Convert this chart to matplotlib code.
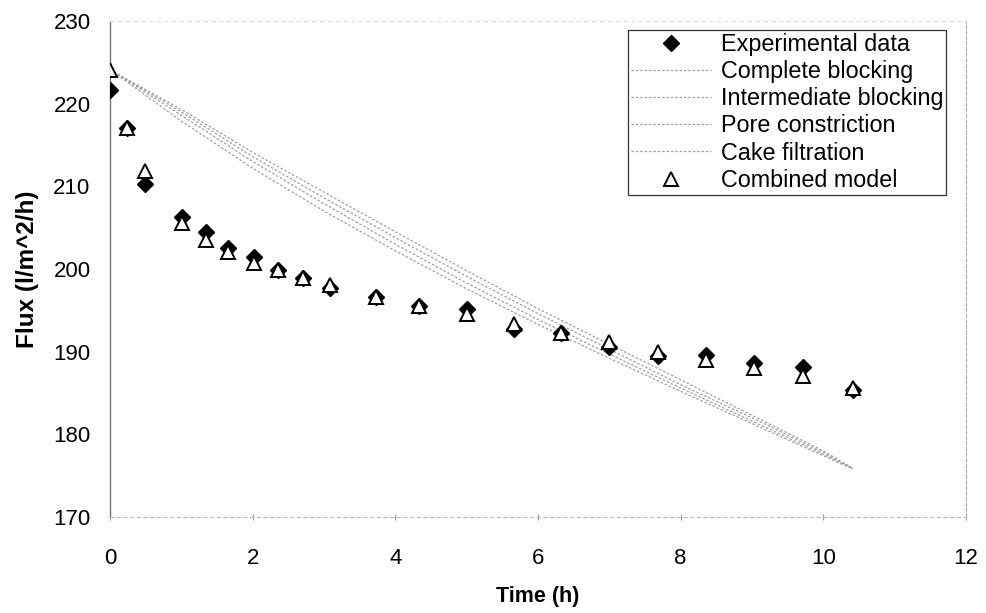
import matplotlib
matplotlib.use("Agg")
import matplotlib.pyplot as plt

plt.rcParams['font.family'] = ['Liberation Sans', 'DejaVu Sans']

# ---- data ----
time_exp = [0, 0.24, 0.49, 1.01, 1.34, 1.65, 2.02, 2.35, 2.71, 3.09, 3.73,
            4.33, 5.01, 5.67, 6.32, 7.00, 7.68, 8.36, 9.03, 9.71, 10.41]
flux_exp = [221.7, 217.1, 210.3, 206.3, 204.5, 202.5, 201.4, 199.9, 198.9, 197.7, 196.6,
            195.5, 195.2, 192.8, 192.2, 190.6, 189.5, 189.6, 188.6, 188.2, 185.4]
flux_combined = [224.1, 217.0, 211.8, 205.6, 203.5, 202.0, 200.7, 199.9, 198.9, 198.1, 196.6,
                 195.5, 194.6, 193.4, 192.2, 191.2, 189.9, 189.0, 188.0, 187.0, 185.6]

time_model = [0, 1, 2, 3, 4, 5, 6, 7, 8, 9, 10, 10.41]
flux_complete = [224.1, 219.3, 214.1, 209.3, 204.5, 199.8, 195.2, 190.9, 186.6, 182.3, 178.0, 175.9]
flux_intermediate = [224.1, 218.6, 213.0, 207.9, 203.0, 198.3, 193.9, 189.7, 185.6, 181.6, 177.6, 175.9]
flux_pore = [224.1, 219.0, 213.6, 208.6, 203.8, 199.1, 194.6, 190.3, 186.0, 182.0, 177.8, 175.9]
flux_cake = [224.1, 217.9, 212.2, 207.0, 202.2, 197.6, 193.3, 189.2, 185.2, 181.3, 177.4, 175.8]

x_ticks = [0, 2, 4, 6, 8, 10, 12]
y_ticks = [170, 180, 190, 200, 210, 220, 230]

fig = plt.figure(figsize=(9.86, 6.13), dpi=100)
ax = fig.add_axes([110/986, 1 - 517/613, 856/986, 496/613])

ax.plot(time_exp, flux_exp, linestyle='none', marker='D', markersize=7.8,
        color='black', label='Experimental data', zorder=3)
line_kw = dict(color='#a0a0a0', linewidth=0.9, linestyle=(0, (2, 1.5)), zorder=2)
ax.plot(time_model, flux_complete, label='Complete blocking', **line_kw)
ax.plot(time_model, flux_intermediate, label='Intermediate blocking', **line_kw)
ax.plot(time_model, flux_pore, label='Pore constriction', **line_kw)
ax.plot(time_model, flux_cake, label='Cake filtration', **line_kw)
ax.plot(time_exp, flux_combined, linestyle='none', marker='^', markersize=9.5,
        markerfacecolor='white', markeredgecolor='black', markeredgewidth=1.4,
        label='Combined model', zorder=4)

ax.set_xlim(0, 12)
ax.set_ylim(170, 230)
ax.set_xticks(x_ticks)
ax.set_yticks(y_ticks)
ax.tick_params(axis='x', labelsize=16, length=5, color='#999999', pad=20, direction='inout')
ax.tick_params(axis='y', labelsize=16, length=0, pad=14)

ax.spines['left'].set_color('#777777')
ax.spines['left'].set_linewidth(1.0)
ax.spines['bottom'].set_color('#bbbbbb')
ax.spines['bottom'].set_linestyle((0, (3, 3)))
ax.spines['top'].set_color('#dddddd')
ax.spines['top'].set_linestyle((0, (3, 4)))
ax.spines['right'].set_color('#aaaaaa')
ax.spines['right'].set_linestyle((0, (3, 2)))

ax.set_xlabel('Time (h)', fontsize=15.5, fontweight='bold', labelpad=12)
ax.set_ylabel('Flux (l/m^2/h)', fontsize=17.5, fontweight='bold', labelpad=10)

leg = ax.legend(loc='upper right', bbox_to_anchor=(0.977, 0.982), borderaxespad=0,
                fontsize=16.8, frameon=True, fancybox=False, edgecolor='black',
                handlelength=3.4, handletextpad=0.45, borderpad=0.12, labelspacing=0.18)
leg.get_frame().set_linewidth(0.9)

fig.savefig('out.png', dpi=100)
